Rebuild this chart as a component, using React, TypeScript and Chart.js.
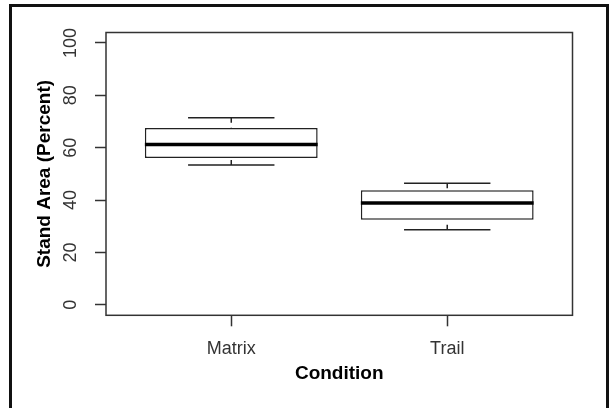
import React, { useEffect, useRef } from "react";
import { Chart, registerables } from "chart.js";

Chart.register(...registerables);

const CATEGORIES = ["Matrix", "Trail"];
const CATEGORY_POS = [1, 2];
const WHISKER_LOW = [53.4, 28.7];
const Q1 = [56.1, 32.5];
const MEDIAN = [61.2, 38.9];
const Q3 = [67.5, 43.8];
const WHISKER_HIGH = [71.4, 46.4];
const Y_TICKS = [0, 20, 40, 60, 80, 100];
const X_TITLE = "Condition";
const Y_TITLE = "Stand Area (Percent)";

const FONT = "'Liberation Sans', Arial, Helvetica, sans-serif";

const boxPlugin = {
  id: "boxExtras",
  afterDatasetsDraw(chart: any) {
    const ctx = chart.ctx;
    const y = chart.scales.y;
    const meta = chart.getDatasetMeta(0);
    ctx.save();
    meta.data.forEach((el: any, i: number) => {
      const cx = el.x;
      const half = el.width / 2;
      const capHalf = half / 2;
      const pHi = y.getPixelForValue(WHISKER_HIGH[i]);
      const pLo = y.getPixelForValue(WHISKER_LOW[i]);
      const pQ1 = y.getPixelForValue(Q1[i]);
      const pQ3 = y.getPixelForValue(Q3[i]);
      const pMed = y.getPixelForValue(MEDIAN[i]);
      ctx.strokeStyle = "#222";
      ctx.lineWidth = 1.5;
      ctx.setLineDash([5, 5]);
      ctx.beginPath();
      ctx.moveTo(cx, pHi);
      ctx.lineTo(cx, pQ3);
      ctx.moveTo(cx, pLo);
      ctx.lineTo(cx, pQ1);
      ctx.stroke();
      ctx.setLineDash([]);
      ctx.beginPath();
      ctx.moveTo(cx - capHalf, pHi);
      ctx.lineTo(cx + capHalf, pHi);
      ctx.moveTo(cx - capHalf, pLo);
      ctx.lineTo(cx + capHalf, pLo);
      ctx.stroke();
      ctx.strokeStyle = "#000";
      ctx.lineWidth = 3.5;
      ctx.beginPath();
      ctx.moveTo(cx - half, pMed);
      ctx.lineTo(cx + half, pMed);
      ctx.stroke();
    });
    const a = chart.chartArea;
    ctx.strokeStyle = "#333";
    ctx.lineWidth = 1.5;
    ctx.strokeRect(a.left, a.top, a.right - a.left, a.bottom - a.top);
    ctx.restore();
  },
};

export default function App() {
  const ref = useRef<HTMLCanvasElement | null>(null);
  useEffect(() => {
    if (!ref.current) return;
    const chart = new Chart(ref.current, {
      type: "bar",
      data: {
        datasets: [
          {
            data: CATEGORY_POS.map((x, i) => ({ x, y: [Q1[i], Q3[i]] })) as any,
            backgroundColor: "#ffffff",
            borderColor: "#222",
            borderWidth: 1.5,
            borderSkipped: false,
            barPercentage: 0.8,
            categoryPercentage: 1,
          },
        ],
      },
      plugins: [boxPlugin],
      options: {
        responsive: false,
        animation: false,
        devicePixelRatio: 1,
        layout: { padding: { left: 20, right: 42.5, top: 32.5, bottom: 23.2 } },
        plugins: { legend: { display: false }, tooltip: { enabled: false } },
        scales: {
          x: {
            type: "linear",
            offset: false,
            min: 0.42,
            max: 2.58,
            afterBuildTicks: (s: any) => {
              s.ticks = CATEGORY_POS.map((v) => ({ value: v }));
            },
            afterFit: (s: any) => {
              s.height = 69.5;
            },
            grid: { offset: false, drawOnChartArea: false, tickLength: 11, tickColor: "#333", tickWidth: 1.5 },
            border: { display: false },
            ticks: {
              padding: 12.4,
              color: "#333",
              font: { family: FONT, size: 18 },
              maxRotation: 0,
              autoSkip: false,
              callback: (v: any) => CATEGORIES[CATEGORY_POS.indexOf(Number(v))] ?? "",
            },
            title: {
              display: true,
              text: X_TITLE,
              color: "#000",
              font: { family: FONT, size: 19, weight: "bold" },
              padding: { top: 0, bottom: 0 },
            },
          },
          y: {
            type: "linear",
            min: -4,
            max: 104,
            afterBuildTicks: (s: any) => {
              s.ticks = Y_TICKS.map((v) => ({ value: v }));
            },
            afterFit: (s: any) => {
              s.width = 86;
            },
            grid: { drawOnChartArea: false, tickLength: 11, tickColor: "#333", tickWidth: 1.5 },
            border: { display: false },
            ticks: {
              padding: 9,
              color: "#333",
              crossAlign: "center",
              minRotation: 90,
              maxRotation: 90,
              font: { family: FONT, size: 18 },
              callback: (v: any) => String(v),
            },
            title: {
              display: true,
              text: Y_TITLE,
              color: "#000",
              font: { family: FONT, size: 19, weight: "bold" },
              padding: { top: 13.1, bottom: 0 },
            },
          },
        },
      },
    });
    return () => chart.destroy();
  }, []);
  return (
    <div>
      <div
        style={{
          position: "absolute",
          left: 9,
          top: 4,
          width: 600,
          height: 440,
          border: "3px solid #111",
          boxSizing: "border-box",
        }}
      />
      <canvas
        ref={ref}
        width={615}
        height={408}
        style={{ position: "absolute", left: 0, top: 0, display: "block" }}
      />
    </div>
  );
}
